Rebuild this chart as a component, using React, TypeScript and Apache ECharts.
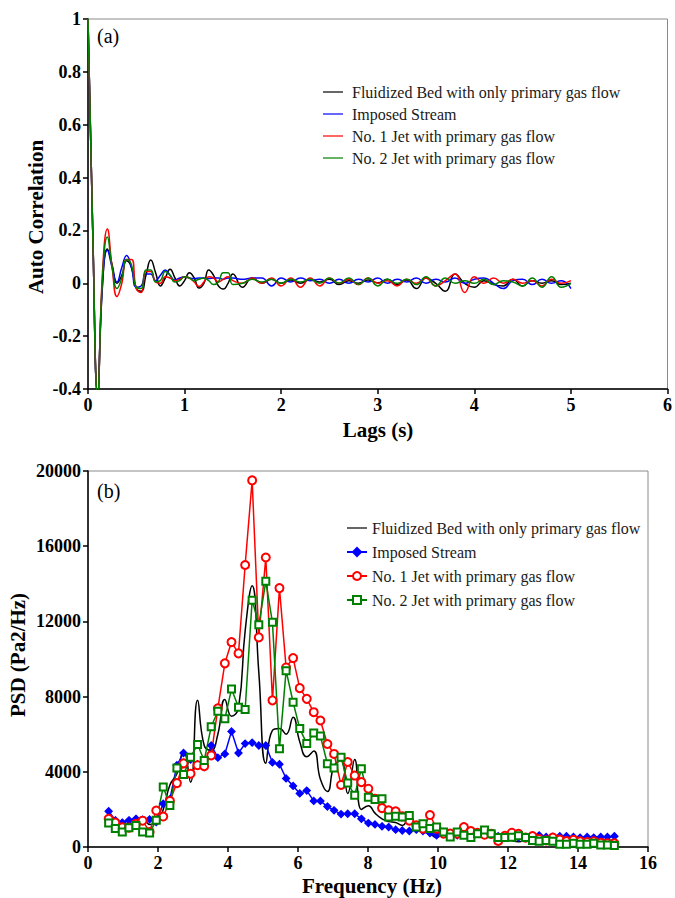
import React, { useEffect, useRef } from "react";
import * as echarts from "echarts";

// ---------- (a) Auto-correlation ----------
const lags = [
  0, 0.05, 0.1, 0.15, 0.2, 0.25, 0.3, 0.35, 0.4, 0.45, 0.5, 0.55, 0.6, 0.65, 0.7, 0.75, 0.8, 0.85, 0.9, 0.95,
  1.0, 1.05, 1.1, 1.15, 1.2, 1.25, 1.3, 1.35, 1.4, 1.45, 1.5,
  1.6, 1.7, 1.8, 1.9, 2.0, 2.1, 2.2, 2.3, 2.4, 2.5, 2.6, 2.7, 2.8, 2.9, 3.0, 3.1, 3.2, 3.3, 3.4, 3.5,
  3.6, 3.7, 3.8, 3.9, 4.0, 4.1, 4.2, 4.3, 4.4, 4.5, 4.6, 4.7, 4.8, 4.9, 5.0,
];
const acfBed = [
  1.0, 0.18, -0.42, -0.01, 0.13, 0.07, 0.0, 0.03, 0.085, 0.06, -0.02, -0.03, 0.03, 0.088, 0.04, -0.01, 0.02, 0.053, 0.02, -0.01,
  0.01, 0.04, 0.02, -0.018, 0.0, 0.05, 0.03, -0.01, -0.022, 0.0, 0.035,
  -0.015, 0.02, 0.0, 0.015, 0.0, 0.012, 0.0, 0.015, 0.005, 0.015, -0.005, 0.01, 0.0, 0.012, 0.002, 0.015, -0.005, 0.012, -0.02, 0.02,
  0.0, -0.03, 0.035, 0.0, -0.015, 0.01, -0.005, -0.01, 0.015, -0.01, 0.01, 0.0, 0.01, -0.005, 0.0,
];
const acfImposed = [
  1.0, 0.18, -0.42, 0.0, 0.125, 0.06, 0.005, 0.06, 0.105, 0.06, -0.015, -0.01, 0.035, 0.035, 0.01, 0.03, 0.05, 0.03, 0.012, 0.02,
  0.025, 0.02, 0.018, 0.02, 0.02, 0.018, 0.02, 0.02, 0.015, 0.02, 0.02,
  0.015, 0.02, 0.02, -0.01, 0.02, 0.005, 0.02, 0.01, 0.015, 0.0, 0.015, 0.0, 0.015, 0.005, 0.02, 0.0, 0.015, 0.005, 0.02, 0.0,
  0.015, 0.005, 0.02, 0.0, 0.015, 0.02, 0.0, -0.02, 0.01, 0.015, -0.005, 0.015, 0.0, 0.01, -0.02,
];
const acfJet1 = [
  1.0, 0.18, -0.42, 0.04, 0.205, 0.06, -0.05, 0.0, 0.09, 0.09, -0.02, -0.035, 0.045, 0.045, 0.005, 0.0, 0.025, 0.02, 0.01, 0.015,
  0.025, 0.02, 0.005, -0.012, 0.005, 0.025, 0.02, 0.005, 0.015, 0.025, 0.01,
  0.0, 0.02, 0.0, 0.02, -0.01, 0.02, -0.015, 0.02, -0.01, 0.02, 0.0, 0.015, -0.005, 0.02, 0.0, 0.01, -0.01, 0.015, 0.0, 0.02,
  -0.01, 0.01, 0.035, -0.035, 0.025, 0.0, 0.02, 0.0, 0.015, 0.0, 0.01, -0.01, 0.015, 0.0, 0.01,
];
const acfJet2 = [
  1.0, 0.18, -0.42, 0.02, 0.175, 0.06, -0.02, 0.02, 0.09, 0.07, -0.015, -0.02, 0.05, 0.05, 0.005, 0.01, 0.045, 0.03, 0.005, 0.01,
  0.025, 0.02, 0.01, 0.015, 0.02, 0.01, -0.005, 0.005, 0.04, 0.04, -0.005,
  0.0, 0.015, 0.005, 0.015, 0.0, 0.015, 0.005, 0.015, 0.0, 0.02, 0.0, 0.02, -0.005, 0.02, -0.01, 0.015, 0.0, 0.015, -0.005, 0.025,
  -0.01, 0.02, 0.0, 0.01, 0.0, 0.015, -0.005, 0.01, 0.005, -0.01, 0.02, -0.015, 0.025, -0.015, 0.0,
];

// ---------- (b) PSD ----------
const freq = [
  0.59, 0.78, 0.98, 1.17, 1.37, 1.56, 1.76, 1.95, 2.15, 2.34,
  2.54, 2.73, 2.93, 3.13, 3.32, 3.52, 3.71, 3.91, 4.10, 4.30,
  4.49, 4.69, 4.88, 5.08, 5.27, 5.47, 5.66, 5.86, 6.05, 6.25,
  6.45, 6.64, 6.84, 7.03, 7.23, 7.42, 7.62, 7.81, 8.01, 8.20,
  8.40, 8.59, 8.79, 8.98, 9.18, 9.38, 9.57, 9.77, 9.96, 10.16,
  10.35, 10.55, 10.74, 10.94, 11.13, 11.33, 11.52, 11.72, 11.91, 12.11,
  12.30, 12.50, 12.70, 12.89, 13.09, 13.28, 13.48, 13.67, 13.87, 14.06,
  14.26, 14.45, 14.65, 14.84, 15.04,
];
const psdBed = [
  1350, 1200, 1100, 1150, 1250, 1600, 1200, 1250, 2000, 3300,
  3900, 5150, 3450, 7800, 5400, 5150, 6000, 7850, 6950, 7400,
  11500, 13900, 9300, 4450, 6200, 6300, 6000, 6900, 5600, 4800,
  5100, 3600, 2950, 4300, 4600, 2850, 4650, 2000, 2200, 1800,
  1500, 1350, 1300, 1150, 1550, 950, 800, 700, 500, 700,
  700, 700, 650, 650, 700, 650, 600, 550, 500, 350,
  280, 350, 450, 400, 450, 400, 350, 400, 350, 400,
  350, 400, 400, 350, 400,
];
const psdImposed = [
  1900, 1420, 1300, 1420, 1500, 1450, 1470, 1330, 2300, 2550,
  4350, 5000, 4650, 4400, 4250, 5400, 4750, 4950, 6150, 5000,
  5500, 5550, 5400, 5400, 4500, 4400, 3650, 3250, 2850, 3000,
  2450, 2450, 2150, 1950, 1750, 1770, 1770, 1500, 1270, 1200,
  1100, 1060, 920, 880, 850, 920, 850, 740, 620, 800,
  710, 620, 670, 710, 710, 740, 670, 570, 530, 530,
  500, 500, 500, 620, 530, 530, 570, 570, 530, 500,
  530, 500, 530, 530, 570,
];
const psdJet1 = [
  1500, 1300, 1050, 1030, 1240, 1400, 800, 1940, 1620, 2450,
  3400, 4450, 3900, 4350, 4300, 4870, 7380, 9770, 10900, 10300,
  15000, 19500, 11150, 15400, 7800, 13770, 9550, 10050, 8450, 7880,
  7170, 6730, 5480, 4950, 3300, 4520, 3800, 3450, 3100, 2570,
  2070, 1950, 1900, 1630, 1400, 1150, 980, 1700, 980, 710,
  710, 710, 1060, 850, 750, 650, 700, 320, 600, 760,
  700, 500, 580, 420, 350, 500, 400, 320, 380, 300,
  260, 300, 220, 200, 200,
];
const psdJet2 = [
  1280, 980, 800, 1030, 1150, 800, 750, 1420, 3190, 2210,
  4200, 3850, 4780, 5450, 4600, 6400, 7220, 6820, 8400, 7430,
  7310, 13130, 11820, 14130, 11950, 5220, 9380, 7700, 6300, 5500,
  6060, 5900, 4430, 4200, 4780, 3400, 2750, 4160, 2650, 2520,
  2570, 1600, 1630, 1600, 1680, 1060, 1240, 980, 1060, 800,
  530, 800, 620, 500, 700, 900, 700, 500, 500, 520,
  600, 500, 350, 300, 350, 300, 140, 150, 200, 150,
  150, 200, 100, 100, 80,
];

const names = [
  "Fluidized Bed with only primary gas flow",
  "Imposed Stream",
  "No. 1 Jet with primary gas flow",
  "No. 2 Jet with primary gas flow",
];
const colors = ["#000000", "#0000ff", "#ff0000", "#008000"];

const FONT = "'Liberation Serif', 'Times New Roman', serif";
const LINE_ICON = "path://M0,0 L20,0 L20,1.2 L0,1.2 Z";

function pairs(xs: number[], ys: number[]) {
  return xs.map((x, i) => [x, ys[i]]);
}

function axisCommon() {
  return {
    axisLine: { show: true, onZero: false, lineStyle: { color: "#000", width: 1.5 } },
    axisTick: { show: true, inside: false, length: 5, lineStyle: { color: "#000", width: 1.5 } },
    splitLine: { show: false },
  };
}

function labelStyle(margin: number) {
  return {
    fontFamily: FONT,
    fontWeight: "bold",
    fontSize: 18,
    color: "#000",
    margin,
  };
}

function textEl(text: string, x: number, y: number, font: string, align: string, rotation = 0) {
  return {
    type: "text",
    x,
    y,
    rotation,
    style: {
      text,
      font,
      fill: "#000",
      align,
      verticalAlign: "middle",
      textAlign: align,
      textVerticalAlign: "middle",
    },
  };
}

export default function App() {
  const ref = useRef<HTMLDivElement>(null);

  useEffect(() => {
    if (!ref.current) return;
    const chart = echarts.init(ref.current, null, { renderer: "svg" });

    const acfs = [acfBed, acfImposed, acfJet1, acfJet2];
    const psds = [psdBed, psdImposed, psdJet1, psdJet2];
    const symbols = ["none", "diamond", "emptyCircle", "emptyRect"];
    const symbolSizes = [0, 7, 8, 7];

    const topSeries = acfs.map((arr, i) => ({
      type: "line",
      name: names[i],
      xAxisIndex: 0,
      yAxisIndex: 0,
      data: pairs(lags, arr),
      smooth: 0.5,
      symbol: "none",
      showSymbol: false,
      clip: true,
      lineStyle: { color: colors[i], width: 1.5 },
      itemStyle: { color: colors[i] },
    }));

    const bottomSeries = psds.map((arr, i) => ({
      type: "line",
      name: names[i] + " ",
      xAxisIndex: 1,
      yAxisIndex: 1,
      data: pairs(freq, arr),
      smooth: i === 0 ? 0.5 : false,
      symbol: symbols[i],
      symbolSize: symbolSizes[i],
      showSymbol: i !== 0,
      clip: true,
      lineStyle: { color: colors[i], width: 1.5 },
      itemStyle: { color: colors[i], borderColor: colors[i], borderWidth: i === 0 ? 0 : 1.3 },
    }));

    const legendText = { fontFamily: FONT, fontSize: 16, color: "#1a1a1a", lineHeight: 16 };

    chart.setOption({
      animation: false,
      backgroundColor: "#ffffff",
      grid: [
        { left: 88, top: 19, width: 580, height: 370, show: true, borderColor: "#8a8a8a", borderWidth: 1 },
        { left: 88, top: 471, width: 560, height: 376, show: true, borderColor: "#8a8a8a", borderWidth: 1 },
      ],
      xAxis: [
        {
          gridIndex: 0, type: "value", min: 0, max: 6, interval: 1,
          ...axisCommon(),
          axisLabel: labelStyle(7),
        },
        {
          gridIndex: 1, type: "value", min: 0, max: 16, interval: 2,
          ...axisCommon(),
          axisLabel: { ...labelStyle(7), formatter: (v: number) => String(v) },
        },
      ],
      yAxis: [
        {
          gridIndex: 0, type: "value", min: -0.4, max: 1, interval: 0.2,
          ...axisCommon(),
          axisLabel: { ...labelStyle(7), formatter: (v: number) => String(Math.round(v * 10) / 10) },
        },
        {
          gridIndex: 1, type: "value", min: 0, max: 20000, interval: 4000,
          ...axisCommon(),
          axisLabel: { ...labelStyle(7), formatter: (v: number) => String(v) },
        },
      ],
      legend: [
        {
          data: names.map((n) => ({ name: n, icon: LINE_ICON })),
          orient: "vertical",
          left: 323,
          top: 84,
          padding: 0,
          itemWidth: 20,
          itemHeight: 14,
          itemGap: 6,
          symbolKeepAspect: true,
          selectedMode: false,
          textStyle: { ...legendText, padding: [0, 0, 0, 4] },
        },
        {
          data: names.map((n, i) =>
            i === 0
              ? { name: n + " ", icon: LINE_ICON, itemStyle: { borderWidth: 0 } }
              : { name: n + " " }
          ),
          orient: "vertical",
          left: 346,
          top: 520,
          padding: 0,
          itemWidth: 20,
          itemHeight: 10,
          itemGap: 8,
          symbolKeepAspect: true,
          selectedMode: false,
          formatter: (n: string) => n.trim(),
          textStyle: legendText,
        },
      ],
      graphic: [
        textEl("Auto Correlation", 36, 217, `bold 21px ${FONT}`, "center", Math.PI / 2),
        textEl("Lags (s)", 378, 430, `bold 21px ${FONT}`, "center"),
        textEl("PSD (Pa2/Hz)", 18, 655, `bold 21px ${FONT}`, "center", Math.PI / 2),
        textEl("Frequency (Hz)", 372, 886, `bold 21px ${FONT}`, "center"),
        textEl("(a)", 97, 36, `20px ${FONT}`, "left"),
        textEl("(b)", 97, 491, `20px ${FONT}`, "left"),
      ],
      series: [...topSeries, ...bottomSeries],
    });

    return () => {
      chart.dispose();
    };
  }, []);

  return (
    <div
      ref={ref}
      style={{ position: "fixed", left: 0, top: 0, width: 675, height: 898, background: "#fff" }}
    />
  );
}
